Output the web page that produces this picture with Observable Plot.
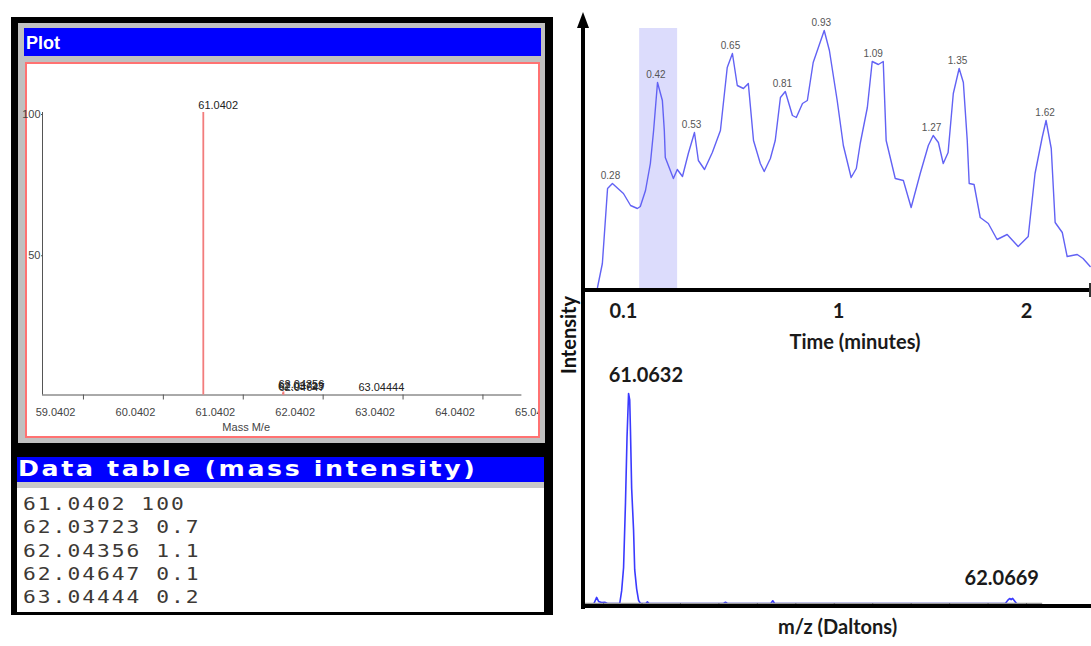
<!DOCTYPE html>
<html><head><meta charset="utf-8">
<script src="https://cdn.jsdelivr.net/npm/d3@7"></script>
<script src="https://cdn.jsdelivr.net/npm/@observablehq/plot@0.6"></script>
<style>
body{margin:0;background:#fff;}
#root{position:relative;width:1091px;height:646px;overflow:hidden;background:#fff;}
.abs{position:absolute;}
.abs svg, svg.abs{display:block;}
</style></head><body><div id="root"></div>
<script>
// ---- Left: stick spectrum (Plot window) ----
const specMass = [61.0402, 62.03723, 62.04356, 62.04647, 63.04444];
const specIntensity = [100, 0.7, 1.1, 0.1, 0.2];
const massTickValues = [59.0402, 60.0402, 61.0402, 62.0402, 63.0402, 64.0402, 65.0402];
const massMinorTicks = [59.5402, 60.5402, 61.5402, 62.5402, 63.5402, 64.5402];
const intensityTicks = [50, 100];

// ---- Right top: chromatogram ----
const chromTime = [0.240,0.255,0.271,0.286,0.320,0.342,0.363,0.372,0.388,0.403,0.413,0.425,0.440,0.446,0.449,0.474,0.486,0.502,0.520,0.539,0.551,0.570,0.594,0.619,0.640,0.656,0.671,0.690,0.705,0.721,0.742,0.754,0.773,0.788,0.804,0.819,0.841,0.853,0.872,0.887,0.905,0.939,0.955,0.979,0.998,1.022,1.038,1.050,1.072,1.087,1.106,1.121,1.130,1.158,1.183,1.207,1.235,1.260,1.275,1.291,1.306,1.321,1.337,1.355,1.368,1.380,1.386,1.401,1.420,1.445,1.472,1.503,1.537,1.568,1.589,1.611,1.623,1.639,1.651,1.673,1.688,1.719,1.737,1.759];
const chromIntensity = [1,25,100,105,95,83,80,82,98,125,158,206,188,158,131,110,119,112,135,156,128,119,136,158,221,235,203,200,205,148,125,117,130,148,191,197,173,171,185,188,226,258,238,188,143,111,120,145,181,227,224,227,148,110,108,81,115,143,153,146,125,136,195,220,206,148,105,104,71,65,49,54,42,52,115,151,168,140,66,56,32,34,30,22];
const peakTimes = [0.28,0.42,0.53,0.65,0.81,0.93,1.09,1.27,1.35,1.62];
const peakHeights = [105,206,156,235,197,258,227,153,220,168];
const highlightWindow = [0.37, 0.487];
const timeTickLabels = ["0.1","1","2"];
const timeTickAt = [0.32, 0.983, 1.563];

// ---- Right bottom: profile mass spectrum ----
const mzValues = [60.975,60.982,60.987,60.995,61.003,61.010,61.042,61.047,61.052,61.057,61.061,61.065,61.068,61.070,61.073,61.078,61.081,61.086,61.091,61.096,61.110,61.114,61.118,61.312,61.317,61.322,61.435,61.440,61.445,62.045,62.051,62.056,62.060,62.064,62.069,62.074];
const mzIntensity = [0,2.9,1,0.5,0.6,0,0,6,17,48,79,100,97,82,55,35,16,7,1.5,0,0,0.8,0,0,0.6,0,0,1.3,0,0,1.5,2.4,1.8,2.4,1.2,0];
const mzTicks = [61.0,61.1,61.2,61.3,61.4,61.5,61.6,61.7,61.8,61.9,62.0,62.1];
const mzAxisExtent = [60.948, 62.142];
const mzLabelMain = {mz: 61.0632, h: 100};
const mzLabelMinor = {mz: 62.0669, h: 2.4};

const root = document.getElementById("root");
function box(l,t,w,h,bg,extra){const d=document.createElement("div");d.className="abs";d.style.cssText=`left:${l}px;top:${t}px;width:${w}px;height:${h}px;background:${bg};${extra||""}`;root.appendChild(d);return d;}
function place(el,l,t){const w=document.createElement("div");w.className="abs";w.style.left=l+"px";w.style.top=t+"px";w.appendChild(el);root.appendChild(w);return w;}

// Left upper window frame
box(11,17,542,431,"#000");
box(18,23,527,420,"#c0c0c0");
const bar = box(24,28,517,28,"#0000ff","color:#fff;font:bold 18px 'Liberation Sans Narrow','Liberation Sans',sans-serif;line-height:30px;padding-left:2px;box-sizing:border-box;");
bar.textContent = "Plot";
box(25,62,515,376,"#fff","border:2px solid #ff7272;box-sizing:border-box;");

const narrow = "'Liberation Sans Narrow','Liberation Sans',sans-serif";
const rows = specMass.map((m,i)=>({mass:m, intensity:specIntensity[i]}));
const leftPlot = Plot.plot({
  width: 518, height: 372,
  marginLeft: 23, marginRight: 15.6, marginTop: 48, marginBottom: 41.5,
  x: {domain: [massTickValues[0], massTickValues[massTickValues.length-1]], label: null},
  y: {domain: [0, 100], label: null},
  style: {fontFamily: narrow, fontSize: "11px", color: "#444", background: "transparent", overflow: "hidden"},
  marks: [
    Plot.ruleY([0], {x1: massTickValues[0], x2: massTickValues[massTickValues.length-1], stroke: "#555", dx: -1}),
    Plot.ruleX([massTickValues[0]], {y1: 0, y2: 100, stroke: "#555", dx: -1}),
    Plot.axisY({ticks: intensityTicks, tickSize: 2, tickPadding: 1, dy: 2, stroke: "#555", fill: "#444"}),
    Plot.axisX({ticks: massTickValues, tickSize: 0, tickPadding: 13, dx: 12, tickFormat: d => d.toFixed(4), fill: "#444"}),
    Plot.axisX({ticks: massMinorTicks, tickSize: 5, tickFormat: () => "", stroke: "#555"}),
    Plot.ruleX(rows, {x: "mass", y1: 0, y2: "intensity", stroke: "#f27c7c", strokeWidth: 1.8}),
    Plot.text(rows, {x: "mass", y: "intensity", text: d => String(d.mass), textAnchor: "start", dx: -5, dy: -7, fill: "#222"}),
    Plot.text(["Mass M/e"], {frameAnchor: "bottom", dx: -37, dy: 36, fill: "#444"})
  ]
});
place(leftPlot, 20, 64);

// Lower data-table window
box(11,448,542,167,"#000");
const tbar = box(17,457,527,25,"#0000ff","overflow:hidden;");
const ttl = document.createElement("div");
ttl.textContent = "Data table (mass intensity)";
ttl.style.cssText = "position:absolute;left:1px;top:0;white-space:nowrap;color:#fff;font:bold 21px 'DejaVu Sans',sans-serif;line-height:25px;letter-spacing:2.2px;transform:scaleX(1.2);transform-origin:0 50%;";
tbar.appendChild(ttl);
box(17,482,527,6,"#c8c8c8");
box(17,488,527,124,"#fff");
const tbl = box(23,493,400,118,"transparent","white-space:pre;color:#3d3935;font:17px 'DejaVu Sans Mono',monospace;line-height:23.3px;letter-spacing:1.6px;transform:scaleX(1.25);transform-origin:0 0;");
tbl.textContent = specMass.map((m,i)=>`${m} ${specIntensity[i]}`).join("\n");

// Right top chromatogram
const chrom = chromTime.map((t,i)=>({t, v: chromIntensity[i]}));
const peaks = peakTimes.map((t,i)=>({t, h: peakHeights[i]}));
const chromPlot = Plot.plot({
  width: 511, height: 360,
  marginLeft: 17, marginRight: 1, marginTop: 30, marginBottom: 72,
  x: {domain: [0.24, 1.76], axis: null, label: null},
  y: {domain: [0, 258], axis: null, label: null},
  style: {fontFamily: narrow, background: "transparent", overflow: "hidden"},
  marks: [
    Plot.rect([highlightWindow], {x1: d => d[0], x2: d => d[1], y1: 0, y2: 260, fill: "#dcdcfc"}),
    Plot.line(chrom, {x: "t", y: "v", stroke: "#6262f4", strokeWidth: 1.4}),
    Plot.text(peaks, {x: "t", y: "h", text: d => d.t.toFixed(2), dy: -8, fontSize: 10, fill: "#555"}),
    Plot.text(timeTickLabels, {x: (d,i) => timeTickAt[i], frameAnchor: "bottom", dy: 29, fontSize: 20, fontWeight: "bold", fontFamily: "Lato", fill: "#1a1a1a"}),
    Plot.text(["Time (minutes)"], {frameAnchor: "bottom", dx: 11, dy: 60, fontSize: 20, fontWeight: "bold", fontFamily: "Lato", fill: "#1a1a1a"})
  ]
});
place(chromPlot, 580, 0);

// Right bottom spectrum
const spec = mzValues.map((m,i)=>({m, v: mzIntensity[i]}));
const specPlot = Plot.plot({
  width: 511, height: 286,
  marginLeft: 0, marginRight: 0, marginTop: 33, marginBottom: 43,
  x: {domain: [60.94, 62.269], label: null},
  y: {domain: [0, 100], axis: null, label: null},
  style: {fontFamily: "Lato", background: "transparent", overflow: "hidden"},
  marks: [
    Plot.line(spec, {x: "m", y: "v", stroke: "#3a3aff", strokeWidth: 1.6}),
    Plot.ruleY([0], {x1: mzAxisExtent[0], x2: mzAxisExtent[1], stroke: "#9a9a9a", strokeWidth: 1.5}),
    Plot.axisX({ticks: mzTicks, tickSize: 3, tickFormat: () => "", stroke: "#666"}),
    Plot.text([mzLabelMain], {x: "mz", y: "h", text: d => d.mz.toFixed(4), dx: 18, dy: -18, fontSize: 20, fontWeight: "bold", fill: "#1a1a1a"}),
    Plot.text([mzLabelMinor], {x: "mz", y: "h", text: d => d.mz.toFixed(4), dx: -12, dy: -20, fontSize: 20, fontWeight: "bold", fill: "#1a1a1a"}),
    Plot.text(["m/z (Daltons)"], {frameAnchor: "bottom", dx: 1.5, dy: 30, fontSize: 20, fontWeight: "bold", fill: "#1a1a1a"})
  ]
});
place(specPlot, 580, 360);

// Right-side black axes (frame decorations)
box(581,20,4,589,"#000");
box(577,12,0,0,"transparent","border-left:6px solid transparent;border-right:6px solid transparent;border-bottom:16px solid #000;");
box(581,288,510,4,"#000");
box(1089,283,2,14,"#333");
box(581,604,510,4,"#000");
const intens = box(508,323,120,24,"transparent","transform:rotate(-90deg);text-align:center;font:bold 20px Lato,sans-serif;line-height:24px;color:#111;");
intens.textContent = "Intensity";
</script>
</body></html>
